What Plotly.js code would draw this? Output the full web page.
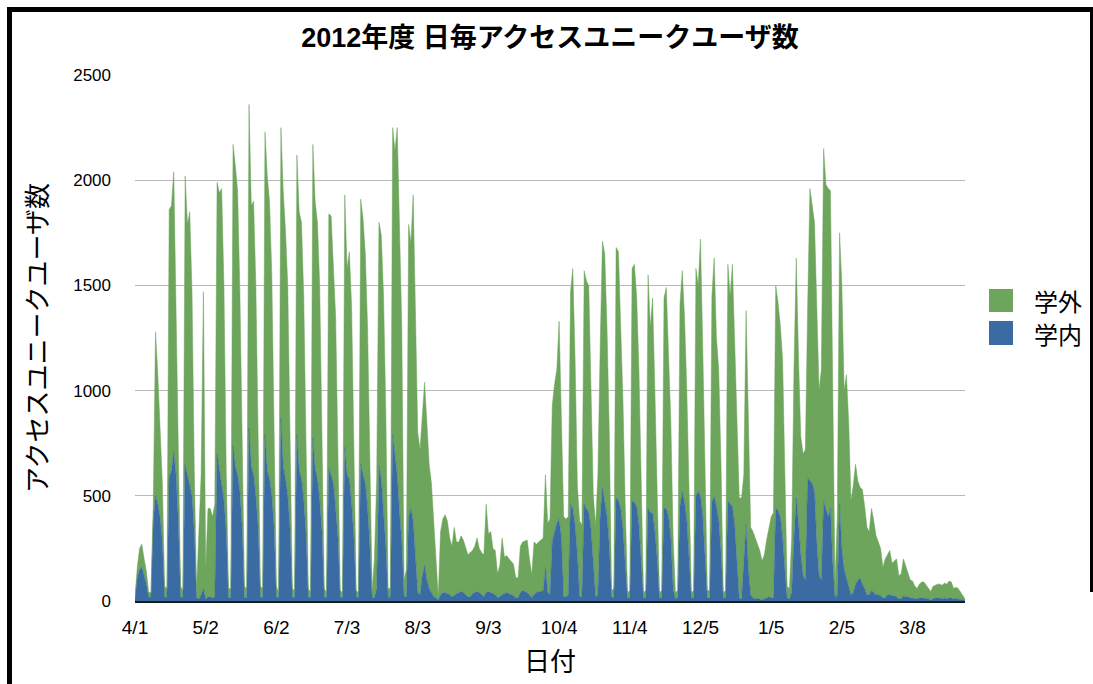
<!DOCTYPE html>
<html>
<head>
<meta charset="utf-8">
<script src="https://cdn.plot.ly/plotly-3.0.1.min.js"></script>
<style>
  html, body { margin: 0; padding: 0; background: #fff; }
  #wrap { position: relative; width: 1093px; height: 684px; overflow: hidden; background: #fff; }
  #chart { position: absolute; left: 0; top: 0; width: 1093px; height: 684px; }
  .bd { position: absolute; background: #000; }
</style>
</head>
<body>
<div id="wrap">
  <div id="chart"></div>
  <div class="bd" style="left:7px; top:7px; width:1086px; height:5px;"></div>
  <div class="bd" style="left:7px; top:7px; width:5px; height:677px;"></div>
  <div class="bd" style="left:1090px; top:7px; width:3px; height:585px;"></div>
</div>
<script>
// 2012-04-01 .. 2013-03-31, one value per day (weeks start on Sunday)
const startDate = '2012-04-01';

// 学内 (on campus)
const gakunai = [
  10,110,150,160,120,80,20,
  15,380,500,460,400,280,20,
  15,590,620,710,600,380,20,
  15,650,600,560,500,330,15,
  10,30,60,10,20,20,15,
  20,700,620,560,480,330,15,
  15,740,640,600,520,350,15,
  15,820,640,600,500,350,20,
  15,790,620,580,500,350,20,
  15,870,640,580,500,340,20,
  15,790,620,580,480,320,20,
  15,775,630,580,480,330,20,
  15,630,600,560,440,300,20,
  15,730,600,580,460,300,20,
  15,650,600,560,440,260,15,
  15,60,640,580,440,260,15,
  20,790,680,600,420,280,20,
  20,400,440,380,200,40,30,
  120,170,100,60,40,20,15,
  5,30,40,40,35,30,20,
  25,35,40,45,40,30,20,
  20,35,40,45,40,30,20,
  40,45,40,35,30,15,20,
  30,35,40,35,30,25,15,
  15,40,50,45,40,30,15,
  30,40,45,45,50,160,40,
  30,285,330,370,390,300,20,
  20,30,460,440,360,220,20,
  20,460,440,420,340,200,20,
  30,400,540,470,400,260,20,
  15,490,480,440,340,200,15,
  15,475,470,450,360,200,15,
  15,440,420,420,330,200,15,
  15,440,440,400,300,60,10,
  15,450,520,470,380,200,15,
  15,500,520,500,400,200,15,
  15,470,500,450,380,230,15,
  15,475,460,450,360,180,10,
  10,200,365,150,30,15,10,
  10,10,5,10,15,20,15,
  15,440,430,400,300,150,10,
  10,40,300,490,370,220,120,
  100,585,570,560,520,280,120,
  100,475,430,400,440,180,15,
  30,460,250,150,110,60,30,
  40,80,100,110,80,60,30,
  30,50,40,30,30,25,15,
  15,30,30,25,25,20,10,
  10,25,20,20,15,15,10,
  10,15,15,15,10,10,5,
  10,15,15,15,10,15,10,
  15,15,10,10,10,8,5,
  3
];

// 学外 (off campus)
const gakugai = [
  10,50,100,110,80,60,20,
  25,70,780,620,450,280,50,
  45,1270,1260,1330,750,380,50,
  35,1370,1190,1290,970,290,35,
  290,570,1410,140,420,420,385,
  440,1290,1320,1400,1020,290,45,
  45,1430,1430,1350,950,330,55,
  45,1540,1240,1300,1000,350,50,
  45,1440,1400,1320,1050,450,50,
  25,1380,1310,1180,1000,460,40,
  35,1330,1230,1220,970,430,40,
  25,1395,1270,1220,1020,470,40,
  25,1210,1230,1060,910,400,30,
  25,1200,980,1080,940,400,30,
  25,1260,1220,1090,860,340,35,
  185,520,1160,1160,1010,640,45,
  40,1460,1460,1650,1280,1020,80,
  130,1390,1260,1550,1100,760,690,
  780,870,750,590,520,340,185,
  15,300,350,370,345,270,240,
  325,245,240,265,250,220,200,
  210,205,220,255,210,200,200,
  420,275,290,215,210,115,150,
  270,175,175,165,160,150,95,
  95,220,230,240,250,170,110,
  250,230,235,245,250,440,330,
  360,645,700,730,940,600,380,
  370,370,1010,1140,790,330,360,
  340,1110,1080,1080,660,300,340,
  570,800,1170,1180,900,540,30,
  45,1190,1180,870,610,250,25,
  35,1105,1130,1000,740,300,25,
  35,1110,880,1020,670,300,25,
  35,1000,1050,800,550,240,30,
  35,960,1050,880,620,300,25,
  35,1080,980,1220,800,350,35,
  35,980,1130,800,720,420,25,
  35,1125,990,1150,870,620,480,
  480,400,1015,650,320,315,290,
  260,230,185,210,275,330,385,
  405,1060,990,910,850,450,60,
  50,260,800,1140,780,560,580,
  620,815,1390,1320,1280,1120,880,
  1000,1675,1550,1560,1510,920,65,
  370,1290,1250,850,965,790,445,
  510,570,470,430,450,390,320,
  300,390,340,280,250,225,145,
  185,190,210,155,165,180,110,
  120,175,150,120,85,80,60,
  50,65,75,75,65,50,40,
  60,60,65,65,65,70,70,
  80,75,50,55,50,37,25,
  7
];

const tickDates  = ['2012-04-01','2012-05-02','2012-06-02','2012-07-03','2012-08-03','2012-09-03',
                    '2012-10-04','2012-11-04','2012-12-05','2013-01-05','2013-02-05','2013-03-08'];
const tickLabels = ['4/1','5/2','6/2','7/3','8/3','9/3','10/4','11/4','12/5','1/5','2/5','3/8'];
const yTicks = [0, 500, 1000, 1500, 2000, 2500];

const seriesNames = ['学内', '学外'];
const legendOrder = ['学外', '学内'];
const colorIn = '#3a6ba3';
const colorOut = '#6ca55b';

// daily category dates
const dates = [];
{
  const d0 = new Date(startDate + 'T00:00:00Z');
  for (let i = 0; i < gakunai.length; i++) {
    const d = new Date(d0.getTime() + i * 86400000);
    dates.push(d.toISOString().slice(0, 10));
  }
}

const fontLatin = '"Liberation Sans Narrow", "Liberation Sans", "Noto Sans CJK JP", sans-serif';
const fontJa = '"Noto Sans CJK JP", "Liberation Sans", sans-serif';

const traces = [
  { x: dates, y: gakunai, name: seriesNames[0], type: 'scatter', mode: 'lines',
    stackgroup: 'one', line: { color: colorIn, width: 0.5 }, fillcolor: colorIn,
    showlegend: false, hoverinfo: 'skip' },
  { x: dates, y: gakugai, name: seriesNames[1], type: 'scatter', mode: 'lines',
    stackgroup: 'one', line: { color: colorOut, width: 0.5 }, fillcolor: colorOut,
    showlegend: false, hoverinfo: 'skip' }
];

// legend drawn as paper-anchored swatches + text (larger squares than Plotly's legend allows)
const legendColors = { '学外': colorOut, '学内': colorIn };
const swX0 = 1.0289, swX1 = 1.0578, textX = 1.0810;
const swY = [[0.5494, 0.5932], [0.4867, 0.5323]];
const shapes = [], annotations = [];
legendOrder.forEach((nm, i) => {
  shapes.push({ type: 'rect', xref: 'paper', yref: 'paper', x0: swX0, x1: swX1,
                y0: swY[i][0], y1: swY[i][1], fillcolor: legendColors[nm], line: { width: 0 } });
  annotations.push({ xref: 'paper', yref: 'paper', x: textX, y: (swY[i][0] + swY[i][1]) / 2,
                     xanchor: 'left', yanchor: 'middle', showarrow: false, text: nm,
                     font: { family: fontJa, size: 24, color: '#000' } });
});

const layout = {
  width: 1093, height: 684,
  margin: { l: 135, r: 128, t: 75, b: 83 },
  paper_bgcolor: '#fff', plot_bgcolor: '#fff',
  showlegend: false,
  title: { text: '<b>2012年度 日毎アクセスユニークユーザ数</b>', x: 0.5, xref: 'paper', xanchor: 'center',
           y: 1 - 38 / 684, yanchor: 'middle', yref: 'container',
           font: { family: fontLatin, size: 27, color: '#000' } },
  xaxis: {
    type: 'date', range: [dates[0], dates[dates.length - 1]],
    tickmode: 'array', tickvals: tickDates, ticktext: tickLabels,
    showgrid: false, zeroline: false, showline: true, linecolor: '#1a1a1a', linewidth: 2,
    ticks: '', ticklabelstandoff: 8,
    tickfont: { family: fontLatin, size: 19, color: '#000' },
    title: { text: '日付', font: { family: fontJa, size: 26, color: '#000' }, standoff: 16 }
  },
  yaxis: {
    range: [0, 2500], tickmode: 'array', tickvals: yTicks,
    showgrid: true, gridcolor: '#b9b9b9', gridwidth: 1, zeroline: false, showline: false,
    ticks: '', ticklabelstandoff: 23,
    tickfont: { family: fontLatin, size: 17, color: '#000' },
    title: { text: 'アクセスユニークユーザ数', font: { family: fontJa, size: 26, color: '#000' }, standoff: 18 }
  },
  shapes: shapes,
  annotations: annotations
};

Plotly.newPlot('chart', traces, layout, { staticPlot: true, displayModeBar: false });
</script>
</body>
</html>
